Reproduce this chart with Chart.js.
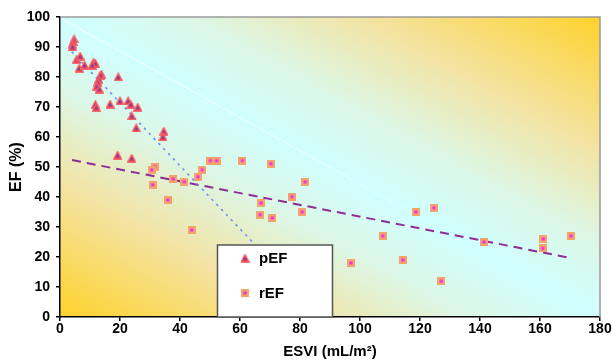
<!DOCTYPE html>
<html>
<head>
<meta charset="utf-8">
<script src="https://cdn.jsdelivr.net/npm/chart.js@4/dist/chart.umd.min.js"></script>
<style>
  html, body { margin: 0; padding: 0; background: #fff; }
  #wrap { width: 613px; height: 362px; }
</style>
</head>
<body>
<div id="wrap"><canvas id="chart0" width="613" height="362"></canvas></div>
<script>
// pEF points (ESVI, EF)
var pefX = [4.7, 4.4, 4.1, 4.2, 5.6, 6.7, 6.4, 8.2, 11.2, 11.8, 10.8, 13.8, 13.4, 12.9, 12.6, 12.3, 13.1, 19.4,
  11.8, 12.1, 16.7, 20.0, 22.7, 23.6, 25.9, 23.9, 25.4, 34.6, 34.3, 19.2, 23.9];
var pefY = [92.7, 91.8, 91.0, 90.1, 86.0, 87.0, 83.0, 84.0, 85.0, 84.6, 84.0, 81.0, 80.6, 79.3, 78.3, 77.0, 76.0, 80.1,
  70.9, 69.9, 71.0, 72.1, 72.1, 70.9, 70.0, 67.1, 63.1, 62.0, 60.1, 54.0, 53.0];

// rEF points (ESVI, EF)
var refX = [50.1, 52.2, 60.8, 31.6, 30.6, 47.4, 46.0, 37.7, 41.4, 30.9, 35.9, 43.9, 70.3, 81.7, 77.3, 67.0, 66.7,
  70.8, 80.7, 97.0, 118.6, 124.6, 107.6, 114.3, 127.1, 141.3, 161.1, 160.9, 170.3];
var refY = [52.1, 52.1, 52.1, 50.1, 49.0, 49.1, 46.8, 46.0, 45.1, 44.1, 39.0, 29.0, 51.1, 45.0, 40.1, 38.0, 34.1,
  33.0, 35.0, 18.0, 35.0, 36.4, 27.0, 19.0, 11.9, 25.0, 26.0, 22.9, 27.0];

// trend lines, end points
var pefTrendX = [3.9, 65.0];
var pefTrendY = [88.4, 24.1];
var refTrendX = [4.0, 170.6];
var refTrendY = [52.3, 19.6];

var xTicks = [0, 20, 40, 60, 80, 100, 120, 140, 160, 180];
var yTicks = [0, 10, 20, 30, 40, 50, 60, 70, 80, 90, 100];

var FONT = "'Liberation Sans', Arial, sans-serif";

function toPoints(xs, ys) {
  return xs.map(function(x, i) { return { x: x, y: ys[i] }; });
}

// marker images
function makeTriangle() {
  var c = document.createElement("canvas");
  c.width = 9; c.height = 9;
  var g = c.getContext("2d");
  g.beginPath();
  g.moveTo(4.5, 0.5);
  g.lineTo(8.7, 8.5);
  g.lineTo(0.3, 8.5);
  g.closePath();
  g.fillStyle = "#ec4250";
  g.fill();
  g.strokeStyle = "#f56a70";
  g.lineWidth = 1;
  g.stroke();
  g.fillStyle = "#3a3fd0";
  g.fillRect(3.5, 4.5, 2, 2);
  return c;
}

function makeSquare() {
  var c = document.createElement("canvas");
  c.width = 8; c.height = 8;
  var g = c.getContext("2d");
  g.fillStyle = "#f5a36c";
  g.fillRect(0, 0, 8, 8);
  g.fillStyle = "#ee2ee8";
  g.fillRect(2.5, 2.5, 3, 3);
  return c;
}

var triImg = makeTriangle();
var sqImg = makeSquare();

var backgroundPlugin = {
  id: "plotBackground",
  beforeDraw: function(chart) {
    var a = chart.chartArea, ctx = chart.ctx;
    var w = a.right - a.left, h = a.bottom - a.top;
    // isolines parallel to the top-left -> bottom-right diagonal
    var k = (2 * w * h) / (h * h + w * w);
    var gx = a.left + k * h, gy = a.bottom - k * w;
    var grad = ctx.createLinearGradient(a.left, a.bottom, gx, gy);
    grad.addColorStop(0, "#ffd22c");
    grad.addColorStop(0.22, "#f3e3a2");
    grad.addColorStop(0.38, "#dcf7e6");
    grad.addColorStop(0.5, "#d0ffff");
    grad.addColorStop(0.62, "#dcf7e6");
    grad.addColorStop(0.78, "#f3e3a2");
    grad.addColorStop(1, "#ffd22c");
    ctx.save();
    ctx.fillStyle = grad;
    ctx.fillRect(a.left, a.top, w, h);
    // faint white band lines
    var lg = ctx.createLinearGradient(a.left, a.top, a.left + w * 0.72, a.top + h * 0.72);
    lg.addColorStop(0, "rgba(255,255,255,0.95)");
    lg.addColorStop(0.8, "rgba(255,255,255,0.6)");
    lg.addColorStop(1, "rgba(255,255,255,0)");
    ctx.strokeStyle = lg;
    ctx.lineWidth = 1;
    ctx.beginPath();
    ctx.moveTo(a.left + 2, a.top + 2);
    ctx.lineTo(a.left + w * 0.72, a.top + h * 0.72);
    ctx.stroke();
    ctx.restore();
  },
  afterDraw: function(chart) {
    var a = chart.chartArea, ctx = chart.ctx;
    ctx.save();
    // top and right frame
    ctx.strokeStyle = "#9a9a9a";
    ctx.lineWidth = 1.5;
    ctx.beginPath();
    ctx.moveTo(a.left, a.top);
    ctx.lineTo(a.right, a.top);
    ctx.lineTo(a.right, a.bottom);
    ctx.stroke();

    // legend box inside plot
    var lx = 217.5, ly = 245, lw = 115, lh = 72;
    ctx.fillStyle = "#ffffff";
    ctx.fillRect(lx, ly, lw, lh);
    ctx.strokeStyle = "#555555";
    ctx.lineWidth = 1.5;
    ctx.strokeRect(lx, ly, lw, lh);
    ctx.drawImage(triImg, 245 - 4.5, 258 - 4.5);
    ctx.drawImage(sqImg, 245 - 4, 293 - 4);
    ctx.fillStyle = "#000";
    ctx.font = "bold 15px " + FONT;
    ctx.textBaseline = "middle";
    ctx.textAlign = "left";
    ctx.fillText(chart.data.datasets[0].label, 259, 259);
    ctx.fillText(chart.data.datasets[1].label, 259, 294);
    ctx.restore();
  }
};

document.addEventListener("DOMContentLoaded", function() {
  var chartCanvas0 = document.getElementById("chart0").getContext("2d");

  var chartData0 = {
    datasets: [
      {
        label: "pEF",
        data: toPoints(pefX, pefY),
        pointStyle: triImg,
        pointRadius: 5,
        order: 1
      },
      {
        label: "rEF",
        data: toPoints(refX, refY),
        pointStyle: sqImg,
        pointRadius: 4,
        order: 2
      },
      {
        label: "pEF trend",
        data: toPoints(pefTrendX, pefTrendY),
        showLine: true,
        borderColor: "#6f8df5",
        borderWidth: 1.6,
        borderDash: [2.5, 4.5],
        pointRadius: 0,
        order: 3
      },
      {
        label: "rEF trend",
        data: toPoints(refTrendX, refTrendY),
        showLine: true,
        borderColor: "#8e2c96",
        borderWidth: 2,
        borderDash: [9, 6],
        pointRadius: 0,
        order: 4
      }
    ]
  };

  var chartOptions = {
    responsive: false,
    animation: false,
    layout: { padding: { left: 0, top: 17, right: 13, bottom: 0 } },
    plugins: {
      legend: { display: false },
      tooltip: { enabled: false }
    },
    scales: {
      x: {
        type: "linear",
        min: 0,
        max: 180,
        afterFit: function(scale) { scale.height = 45; },
        afterBuildTicks: function(scale) { scale.ticks = xTicks.map(function(v) { return { value: v }; }); },
        grid: { drawOnChartArea: false, drawTicks: true, tickLength: 4, color: "#000", lineWidth: 1.5 },
        border: { display: true, color: "#000", width: 1.5 },
        ticks: { color: "#000", padding: 0, maxRotation: 0, font: { family: FONT, size: 14, weight: "bold" } },
        title: {
          display: true,
          text: "ESVI (mL/m\u00b2)",
          color: "#000",
          padding: { top: 0, bottom: 1 },
          font: { family: FONT, size: 15, weight: "bold" }
        }
      },
      y: {
        type: "linear",
        min: 0,
        max: 100,
        afterFit: function(scale) { scale.width = 60; },
        afterBuildTicks: function(scale) { scale.ticks = yTicks.map(function(v) { return { value: v }; }); },
        grid: { drawOnChartArea: false, drawTicks: true, tickLength: 4, color: "#000", lineWidth: 1.5 },
        border: { display: true, color: "#000", width: 1.5 },
        ticks: { color: "#000", padding: 6, font: { family: FONT, size: 14, weight: "bold" } },
        title: {
          display: true,
          text: "EF (%)",
          color: "#000",
          padding: { top: 7, bottom: 0 },
          font: { family: FONT, size: 16, weight: "bold" }
        }
      }
    }
  };

  var chart0 = new Chart(chartCanvas0, {
    type: "scatter",
    data: chartData0,
    options: chartOptions,
    plugins: [backgroundPlugin]
  });
});
</script>
</body>
</html>
